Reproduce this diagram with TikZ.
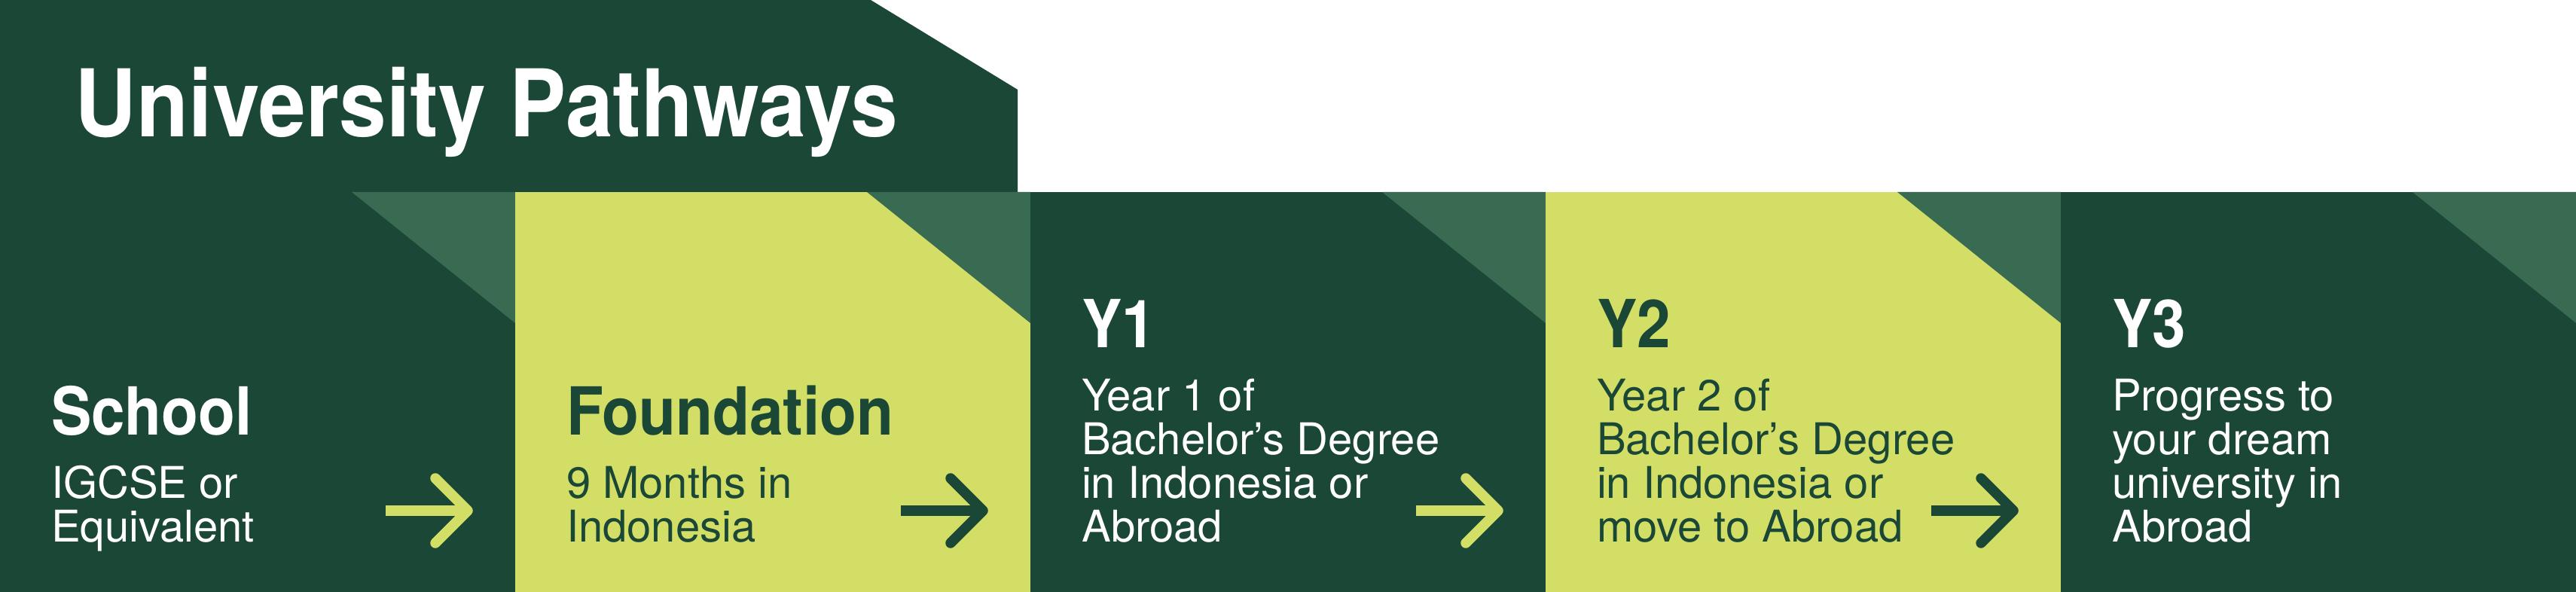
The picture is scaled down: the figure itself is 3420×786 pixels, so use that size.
\documentclass[tikz,border=0pt]{standalone}
\usepackage{fontspec}
\setmainfont{TeX Gyre Heros}[BoldFeatures={FakeStretch=0.91}]
\usetikzlibrary{positioning}
\definecolor{pathdark}{HTML}{1A4736}
\definecolor{pathmid}{HTML}{386B52}
\definecolor{pathlime}{HTML}{D3DE67}
\tikzset{
  titletxt/.style={anchor=base west, inner sep=0pt, text=white, font=\fontsize{12.4}{12.4}\selectfont\bfseries},
  headtxt/.style={anchor=base west, inner sep=0pt, text=#1, font=\fontsize{8.8}{8.8}\selectfont\bfseries},
  bodytxt/.style={anchor=base west, inner sep=0pt, text=#1, align=left, font=\fontsize{5.8}{5.8}\selectfont},
  arrowline/.style={draw=#1, line width=1.35pt, line cap=round, line join=round},
}

\begin{document}
\begin{tikzpicture}[x=0.1pt,y=-0.1pt]
	\useasboundingbox (0,0) rectangle (3420,786);
	% header
	\fill[pathdark] (0,0) -- (1156,0) -- (1351,119) -- (1351,255) -- (0,255) -- cycle;
	\node (title) [titletxt] at (98,182) {University Pathways};
	%
	% columns
	\fill[pathdark] (0,255) rectangle (684,786);
	\fill[pathmid] (467,255) -- (684,255) -- (684,429) -- cycle;
	\fill[pathlime] (684,255) rectangle (1368,786);
	\fill[pathmid] (1151,255) -- (1368,255) -- (1368,429) -- cycle;
	\fill[pathdark] (1368,255) rectangle (2052,786);
	\fill[pathmid] (1835,255) -- (2052,255) -- (2052,429) -- cycle;
	\fill[pathlime] (2052,255) rectangle (2736,786);
	\fill[pathmid] (2519,255) -- (2736,255) -- (2736,429) -- cycle;
	\fill[pathdark] (2736,255) rectangle (3420,786);
	\fill[pathmid] (3203,255) -- (3420,255) -- (3420,429) -- cycle;
	%
	% School
	\node (school) [bodytxt=white] at (66,719) {IGCSE or\\Equivalent};
	\node (schoolhead) [headtxt=white] at ([yshift=14.2pt]school.base west) {School};
	% Foundation
	\node (found) [bodytxt=pathdark] at (750,719) {9 Months in\\Indonesia};
	\node (foundhead) [headtxt=pathdark] at ([yshift=14.2pt]found.base west) {Foundation};
	% Y1
	\node (yone) [bodytxt=white] at (1434,719) {Year 1 of\\Bachelor’s Degree\\in Indonesia or\\Abroad};
	\node (yonehead) [headtxt=white] at ([yshift=25.8pt]yone.base west) {Y1};
	% Y2
	\node (ytwo) [bodytxt=pathdark] at (2118,719) {Year 2 of\\Bachelor’s Degree\\in Indonesia or\\move to Abroad};
	\node (ytwohead) [headtxt=pathdark] at ([yshift=25.8pt]ytwo.base west) {Y2};
	% Y3
	\node (ythree) [bodytxt=white] at (2802,719) {Progress to\\your dream\\university in\\Abroad};
	\node (ythreehead) [headtxt=white] at ([yshift=25.8pt]ythree.base west) {Y3};
	%
	% arrows
	\coordinate (a1) at (512,678);
	\coordinate (a2) at (1196,678);
	\coordinate (a3) at (1880,678);
	\coordinate (a4) at (2564,678);
	\draw[arrowline=pathlime, line cap=butt] (a1) -- ++(112,0);
	\draw[arrowline=pathlime] ([shift={(66,-43)}]a1) -- ++(43,43) -- ++(-43,43);
	\draw[arrowline=pathdark, line cap=butt] (a2) -- ++(112,0);
	\draw[arrowline=pathdark] ([shift={(66,-43)}]a2) -- ++(43,43) -- ++(-43,43);
	\draw[arrowline=pathlime, line cap=butt] (a3) -- ++(112,0);
	\draw[arrowline=pathlime] ([shift={(66,-43)}]a3) -- ++(43,43) -- ++(-43,43);
	\draw[arrowline=pathdark, line cap=butt] (a4) -- ++(112,0);
	\draw[arrowline=pathdark] ([shift={(66,-43)}]a4) -- ++(43,43) -- ++(-43,43);
\end{tikzpicture}
\end{document}
